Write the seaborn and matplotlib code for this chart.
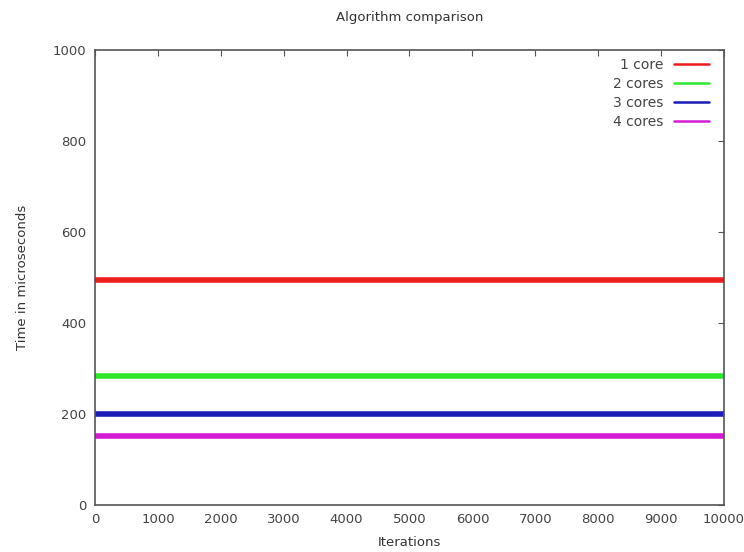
import matplotlib
matplotlib.use("Agg")
import matplotlib.pyplot as plt
import seaborn as sns
import pandas as pd

# Measured run time per iteration for each core count
iterations = [0, 10000]
time_1_core = [494, 494]
time_2_cores = [283, 283]
time_3_cores = [199, 199]
time_4_cores = [152, 152]
series_names = ["1 core", "2 cores", "3 cores", "4 cores"]
series_colors = ["#ec1c1c", "#2ee82e", "#1c1cb8", "#d21cd2"]

x_ticks = list(range(0, 10001, 1000))
y_ticks = list(range(0, 1001, 200))

frames = []
for name, vals in zip(series_names, [time_1_core, time_2_cores, time_3_cores, time_4_cores]):
    frames.append(pd.DataFrame({"Iterations": iterations, "Time": vals, "Series": name}))
df = pd.concat(frames, ignore_index=True)

sns.set_style("white")
plt.rcParams["font.family"] = ["DejaVu Sans"]

fig = plt.figure(figsize=(7.44, 5.52), dpi=100)
ax = fig.add_axes([0.1277, 0.0851, 0.8454, 0.8243])

sns.lineplot(data=df, x="Iterations", y="Time", hue="Series",
             palette=dict(zip(series_names, series_colors)),
             linewidth=4.0, ax=ax, legend=False)

ax.set_xlim(0, 10000)
ax.set_ylim(0, 1000)
ax.set_xticks(x_ticks)
ax.set_yticks(y_ticks)
ax.tick_params(direction="in", top=True, right=True, length=4, width=0.8,
               colors="#555555", labelsize=9.5, labelcolor="#444444", pad=6)
for s in ax.spines.values():
    s.set_color("#555555")
    s.set_linewidth(1.2)

ax.set_title("Algorithm comparison", fontsize=9.5, color="#333333", pad=21)
ax.set_xlabel("Iterations", fontsize=9.5, color="#333333", labelpad=7)
ax.set_ylabel("Time in microseconds", fontsize=9.5, color="#333333", labelpad=17)

handles = [plt.Line2D([], [], color=c, lw=1.8) for c in series_colors]
leg = ax.legend(handles, series_names, loc="upper right", frameon=False,
                markerfirst=False, fontsize=10, handlelength=2.5,
                labelspacing=0.36, borderaxespad=0.0, handletextpad=0.8,
                bbox_to_anchor=(0.985, 0.995))
for t in leg.get_texts():
    t.set_color("#444444")
    t.set_ha("right")

fig.savefig("out.png", dpi=100)
